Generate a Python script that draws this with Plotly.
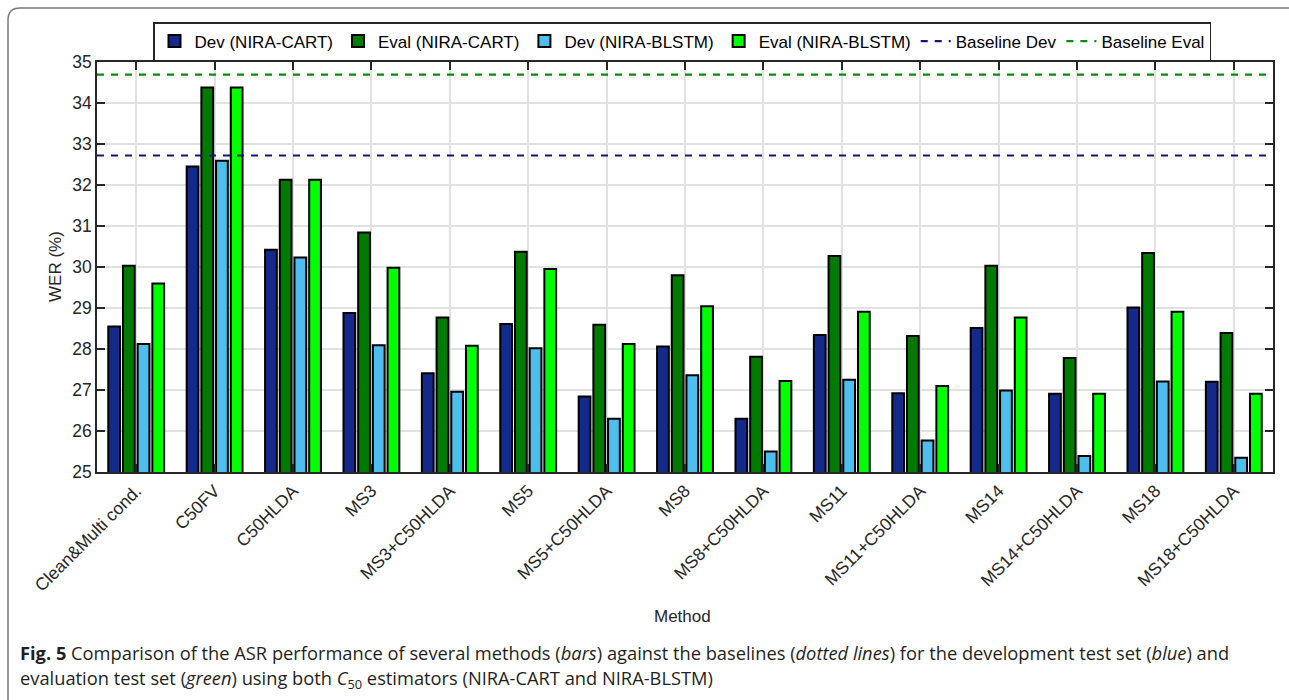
import plotly.graph_objects as go

# Methods compared (x categories)
methods = ["Clean&Multi cond.", "C50FV", "C50HLDA", "MS3", "MS3+C50HLDA", "MS5",
           "MS5+C50HLDA", "MS8", "MS8+C50HLDA", "MS11", "MS11+C50HLDA", "MS14",
           "MS14+C50HLDA", "MS18", "MS18+C50HLDA"]

# WER (%) per method
dev_cart = [28.55, 32.45, 30.42, 28.88, 27.41, 28.61, 26.84, 28.06, 26.30, 28.34,
            26.92, 28.51, 26.91, 29.01, 27.20]
eval_cart = [30.03, 34.38, 32.13, 30.84, 28.77, 30.37, 28.59, 29.80, 27.81, 30.27,
             28.32, 30.03, 27.78, 30.34, 28.39]
dev_blstm = [28.12, 32.59, 30.23, 28.09, 26.96, 28.02, 26.30, 27.36, 25.50, 27.25,
             25.77, 26.99, 25.39, 27.21, 25.35]
eval_blstm = [29.60, 34.38, 32.13, 29.98, 28.08, 29.95, 28.12, 29.04, 27.22, 28.91,
              27.10, 28.77, 26.91, 28.91, 26.91]

# Baseline WER (%)
baseline_dev = 32.72
baseline_eval = 34.69

y_ticks = list(range(25, 36))

W, H = 1289, 700
ML, MR, MT, MB = 97, 16, 62, 228
PW, PH = W - ML - MR, H - MT - MB


def px_x(px):
    return (px - ML) / PW


def px_y(py):
    return (H - MB - py) / PH


idx = list(range(len(methods)))
x_lo, x_hi = -0.5, len(methods) - 0.5

TXT = "#262626"
FONT = "Liberation Sans, Arial, sans-serif"
CAP_FONT = "Open Sans, Lato, sans-serif"

fig = go.Figure()
bar_series = [
    ("Dev (NIRA-CART)", dev_cart, "#142a8a"),
    ("Eval (NIRA-CART)", eval_cart, "#007a00"),
    ("Dev (NIRA-BLSTM)", dev_blstm, "#4dbeee"),
    ("Eval (NIRA-BLSTM)", eval_blstm, "#00ff00"),
]
for name, vals, col in bar_series:
    fig.add_trace(go.Bar(
        x=idx, y=vals, name=name,
        marker=dict(color=col, line=dict(color="black", width=2)),
        hoverinfo="skip",
    ))

fig.add_trace(go.Scatter(
    x=[x_lo, x_hi], y=[baseline_dev, baseline_dev], mode="lines",
    name="Baseline Dev", line=dict(color="#15157a", width=2.2, dash="7px,7px"),
))
fig.add_trace(go.Scatter(
    x=[x_lo, x_hi], y=[baseline_eval, baseline_eval], mode="lines",
    name="Baseline Eval", line=dict(color="#058f05", width=2.2, dash="7px,7px"),
))

fig.update_layout(
    width=W, height=H,
    margin=dict(l=ML, r=MR, t=MT, b=MB),
    paper_bgcolor="white", plot_bgcolor="white",
    barmode="group", bargap=0.25, bargroupgap=0.2,
    font=dict(family=FONT, color=TXT, size=17),
    showlegend=True,
    legend=dict(
        orientation="h", x=px_x(682), xanchor="center", y=px_y(22), yanchor="top",
        bgcolor="white", bordercolor=TXT, borderwidth=1.5,
        font=dict(family=FONT, size=17, color="black"),
        itemwidth=30, tracegroupgap=0,
    ),
)

fig.update_xaxes(
    range=[x_lo, x_hi], tickmode="array", tickvals=idx, ticktext=methods,
    tickangle=-45, tickfont=dict(family=FONT, size=17.5, color=TXT),
    ticks="inside", ticklen=8, tickwidth=1.5, tickcolor=TXT,
    showline=True, linecolor=TXT, linewidth=1.5, mirror="ticks",
    showgrid=True, gridcolor="#e1e1e1", gridwidth=1.8, zeroline=False,
)
fig.update_yaxes(
    range=[25, 35], tickmode="array", tickvals=y_ticks,
    tickfont=dict(family=FONT, size=17.5, color=TXT),
    ticks="inside", ticklen=8, tickwidth=1.5, tickcolor=TXT,
    showline=True, linecolor=TXT, linewidth=1.5, mirror="ticks",
    showgrid=True, gridcolor="#e1e1e1", gridwidth=1.8, zeroline=False,
)

# Rounded figure frame
r = 12
x0, y0 = px_x(8), px_y(8)
xr = px_x(1320)
yb = px_y(720)
rx, ry = r / PW, r / PH
fig.add_shape(
    type="path", xref="paper", yref="paper", layer="above",
    path=(f"M {x0},{yb} L {x0},{y0 - ry} Q {x0},{y0} {x0 + rx},{y0} L {xr},{y0}"),
    line=dict(color="#7a7a7a", width=1.5),
)

annotations = [
    dict(text="WER (%)", x=px_x(55), y=px_y(267), textangle=-90,
         font=dict(family=FONT, size=17, color=TXT)),
    dict(text="Method", x=px_x(682), y=px_y(616),
         font=dict(family=FONT, size=17, color=TXT)),
    dict(text=("<b>Fig. 5</b> Comparison of the ASR performance of several methods "
               "(<i>bars</i>) against the baselines (<i>dotted lines</i>) for the "
               "development test set (<i>blue</i>) and"),
         x=px_x(18), y=px_y(652), xanchor="left",
         font=dict(family=CAP_FONT, size=18.3, color="#231f20")),
    dict(text=("evaluation test set (<i>green</i>) using both <i>C</i><sub>50</sub> "
               "estimators (NIRA-CART and NIRA-BLSTM)"),
         x=px_x(18), y=px_y(679), xanchor="left",
         font=dict(family=CAP_FONT, size=18.3, color="#231f20")),
]
for a in annotations:
    a.setdefault("xanchor", "center")
    fig.add_annotation(xref="paper", yref="paper", showarrow=False, yanchor="middle", **a)

fig.write_html("out.html")
